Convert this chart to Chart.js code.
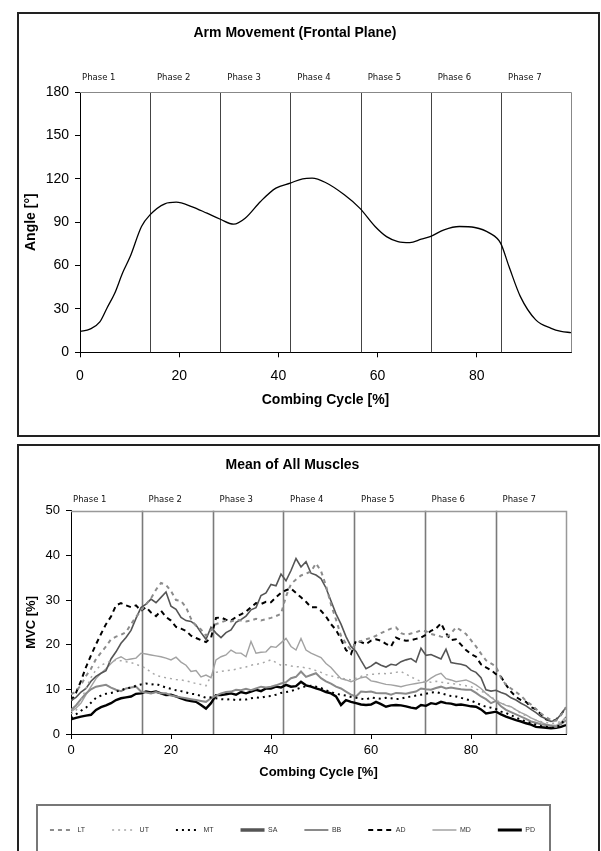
<!DOCTYPE html>
<html>
<head>
<meta charset="utf-8">
<script src="https://cdn.jsdelivr.net/npm/chart.js@4.4.0/dist/chart.umd.min.js"></script>
<style>
  html, body { margin: 0; padding: 0; background: #fff; }
  body { width: 601px; height: 851px; position: relative; overflow: hidden; }
  .panel { position: absolute; left: 17px; width: 579px; border: 2px solid #222; background: #fff; }
  #topPanel { top: 12px; height: 421px; }
  #bottomPanel { top: 444px; height: 430px; }
  canvas { display: block; }
  #legendBox { position: absolute; left: 36px; top: 804px; width: 511px; height: 80px;
               border: 2px solid #777; pointer-events: none; }
</style>
</head>
<body>
<div class="panel" id="topPanel"><canvas id="armChart" width="579" height="421"></canvas></div>
<div class="panel" id="bottomPanel"><canvas id="mvcChart" width="578" height="405"></canvas></div>
<div id="legendBox"></div>
<script>
// ---- data ----
const phaseNames = ['Phase 1', 'Phase 2', 'Phase 3', 'Phase 4', 'Phase 5', 'Phase 6', 'Phase 7'];
const phaseBounds = [14.1, 28.3, 42.4, 56.6, 70.7, 84.9];
const xTicks = [0, 20, 40, 60, 80];

// arm angle, frontal plane
const armX = [0, 2, 4, 5.5, 7, 8.6, 10.1, 12.4, 14.1, 17.1, 19.4, 22.5, 25.6, 28.3, 31, 33.3, 36.4, 39.5, 42.4, 44.9,
  46.8, 49.5, 53.3, 56.4, 59.5, 61.8, 64.1, 66.5, 68.8, 70.6, 73.4, 76.5, 79.6, 82.6, 84.8, 86.5, 88.8, 91.9, 95, 97, 99];
const armAngle = [14.3, 16, 21, 31, 40.8, 55, 66, 87, 95, 102.7, 103.8, 100.8, 96.2, 92, 88.6, 92.7, 104.3, 113.5, 117, 120,
  120.4, 117.4, 108.9, 99.7, 87, 80, 76.6, 75.9, 78.2, 80, 84.7, 87, 86.3, 82.4, 75.5, 59.3, 38.5, 22.4, 16.6, 14.5, 13.6];

// muscle activity, % MVC, one value per % of cycle (0..99)
const LT = [
  8.9, 9.5, 11, 13, 14.6, 16.8, 18.2, 19.6, 21.2, 21.8,
  22.2, 22.8, 24.6, 26.2, 27.6, 29, 30.4, 32.3, 33.8, 33.4,
  32, 30, 29.8, 28.4, 25.8, 24.2, 23.4, 22, 23.2, 24.6,
  25, 25.4, 25.2, 25.6, 25.4, 25.2, 25.4, 25.8, 25.4, 25.7,
  26, 26.4, 26.9, 30.8, 33.6, 34.6, 35.5, 35.9, 36.4, 38.2,
  36.5, 33.2, 29, 25.6, 22, 20.2, 18.8, 20.4, 20.8, 21.2,
  21.5, 22, 22.6, 23.1, 23.6, 23.9, 22.6, 22.2, 22.5, 22.8,
  23.2, 23, 22.4, 22.1, 21.8, 21.6, 22.5, 23.9, 23.2, 22.4,
  21, 19.6, 18, 16.5, 15.8, 15.1, 12.6, 11, 10.2, 9.4,
  8.6, 7.4, 6.6, 5.6, 4.6, 3.8, 3.1, 3, 4.2, 6];
const UT = [
  4.5, 5.2, 7.4, 10.2, 12.6, 14.4, 15.4, 15.9, 16.3, 16.5,
  16.4, 16.2, 16, 15.6, 15.2, 14.7, 13.8, 13.2, 12.8, 12.6,
  12.4, 12.2, 12.1, 11.9, 11.6, 11.3, 11.1, 10.8, 13, 13.8,
  14, 14.2, 14.3, 14.5, 14.8, 15, 15.4, 15.6, 15.8, 16.2,
  16.6, 16, 15.4, 15.5, 15.2, 15.1, 15, 14.8, 14.6, 14.2,
  13.8, 13.3, 13, 12.7, 12.5, 12.3, 12.1, 12.5, 12.9, 13.2,
  13.4, 13.4, 13.6, 13.5, 13.6, 13.8, 14, 13.4, 12.8, 12.2,
  11.8, 11.7, 11.6, 11.8, 11.6, 11.4, 11.3, 11.2, 11, 10.8,
  10.6, 10.1, 9.6, 9.1, 8.3, 7.6, 7, 6.4, 6.1, 5.4,
  4.6, 4.1, 3.6, 3.1, 2.8, 2.6, 2.4, 2.4, 2.9, 3.5];
const MT = [
  3.6, 4.4, 5.2, 5.9, 7, 8.1, 8.6, 9, 9.2, 9.5,
  9.8, 10.2, 10.4, 10.8, 11.1, 11.3, 11.1, 11.2, 10.8, 10.4,
  10.1, 9.8, 9.6, 9.3, 9, 8.9, 8.5, 8.1, 8.2, 8,
  7.8, 7.7, 7.8, 7.6, 7.7, 7.7, 8, 8.2, 8.1, 8.4,
  8.5, 8.8, 9.2, 9.4, 9.6, 10, 10.4, 10.7, 10.8, 10.6,
  10.3, 9.8, 9.4, 9, 8.8, 8.6, 8.3, 8.1, 7.9, 7.7,
  8.2, 8, 7.9, 8.1, 8, 7.8, 7.9, 8.2, 8.4, 8.6,
  8.8, 9, 9.3, 9.4, 9.1, 8.8, 8.5, 8.4, 8.1, 7.8,
  7.5, 7, 6.5, 6.1, 5.9, 5.6, 5, 4.7, 4.2, 3.7,
  3.2, 2.8, 2.4, 2.1, 1.8, 1.6, 1.4, 1.4, 2.2, 3.6];
const SA = [
  7.5, 8.2, 9.4, 10.2, 11.8, 12.9, 13.6, 14.2, 16.8, 18.4,
  20.3, 21.6, 23.2, 25.9, 28.3, 29.1, 30.2, 29.4, 30.6, 31.8,
  28.6, 27.9, 26.1, 25.4, 25.2, 24.4, 22.7, 21.2, 23.9, 22.6,
  21.6, 22.7, 23.3, 25, 25.6, 26.4, 27.8, 28.3, 31, 31.6,
  33.5, 33.2, 35.8, 34.3, 36.6, 39.3, 37.4, 38.6, 36, 35.6,
  34.8, 32.7, 29.8, 26.9, 24.6, 21.8, 19.6, 18.5, 16.5, 14.6,
  15.2, 16, 15.4, 15, 15.6, 15.4, 16.2, 16.6, 16.9, 16.1,
  19.2, 17.6, 17.8, 17.3, 16.8, 19, 16, 15.8, 15.6, 15.3,
  14.3, 13.8, 12.6, 9.9, 9.6, 9.8, 9.3, 8.9, 8.1, 7.6,
  6.9, 6.3, 5.5, 4.8, 3.9, 3.4, 2.8, 3.1, 4.4, 6];
const BB = [
  5.4, 6.4, 7.8, 9.1, 10, 10.6, 10.8, 11, 10.4, 9.9,
  9.6, 10.2, 10.4, 10.6, 9.5, 9.3, 9.1, 9.4, 9.1, 9.1,
  8.6, 8.4, 8.2, 8, 7.8, 7.6, 7.4, 7.2, 8, 8.6,
  9.1, 9.4, 9.5, 9.9, 9.8, 10.1, 9.8, 10.2, 10.6, 10.4,
  10.6, 10.9, 11.3, 11.6, 12.5, 12.8, 14, 12.8, 13.2, 13.6,
  12.5, 11.8, 11.3, 10.6, 10.2, 9.5, 8.8, 8.4, 9.5, 9.4,
  9.5, 9.2, 9.1, 9.1, 8.8, 9.2, 9.1, 9, 9.3, 9.5,
  10.2, 10, 9.9, 10.3, 10.6, 10.2, 10.4, 10.2, 10, 9.9,
  9.9, 9.2, 8.4, 7.8, 6.9, 7.4, 6.2, 5.4, 4.9, 4.4,
  3.9, 3.4, 2.8, 2.5, 2.2, 2, 1.8, 1.6, 2.2, 3.1];
const AD = [
  7.4, 9.2, 11.9, 15, 17.6, 20.1, 22.4, 24.6, 26.3, 28.8,
  29.3, 28.8, 28.4, 28.8, 27.6, 28.4, 27.2, 26.4, 27.6, 26.2,
  25.4, 24, 23.6, 23.1, 22, 21.5, 21, 20.6, 21.5, 26,
  26.1, 25.6, 25.4, 26.2, 26.8, 27.4, 28.4, 29.3, 29.1, 29.6,
  29.5, 30.6, 31.6, 32.2, 32.6, 31.6, 30.6, 29.6, 28.4, 28.4,
  27.6, 26.3, 24.6, 23.3, 21.2, 18.8, 17.9, 20.9, 20.6, 20.1,
  20.9, 21.2, 20.9, 20.2, 19.6, 21.6, 21.1, 20.9, 21, 21.3,
  21.6, 22.2, 23.1, 23.6, 24.8, 22.6, 21, 21.2, 20, 18.8,
  17.9, 17.3, 15.6, 14.9, 14.3, 13.4, 12.8, 11, 9.5, 8.3,
  7.6, 7.2, 6, 5.5, 4.4, 3.3, 2.9, 3.2, 4.4, 5.9];
const MD = [
  5, 5.8, 6.9, 8.8, 10.6, 12.4, 13.6, 14.6, 15.8, 16.8,
  17.3, 16.6, 16.8, 17, 18.1, 17.9, 17.7, 17.5, 17.3, 17,
  16.6, 17.2, 16.1, 15.4, 14, 14.2, 12.8, 13.2, 12.6, 16.6,
  17.3, 17.7, 18.8, 18.1, 18.1, 17.3, 20.7, 18.1, 18.3, 18.4,
  19.6, 19.4, 20.4, 21.4, 19.6, 18.8, 21.4, 18.8, 18.1, 17.6,
  17.1, 15.8, 14.9, 13.6, 12.4, 12.1, 11.7, 12.1, 12.6, 12.8,
  11.9, 11.7, 11.4, 11.1, 11, 10.8, 10.6, 10.9, 11.1, 11.3,
  11.5, 11.7, 12.5, 13.2, 13.6, 12.4, 12.1, 11.7, 11.9, 12.1,
  11.6, 11, 10.2, 9.1, 8.2, 7.4, 6.9, 6.4, 6.1, 5.4,
  4.8, 4.3, 3.6, 3.1, 2.6, 2.2, 2, 1.9, 2.6, 3.9];
const PD = [
  3.3, 3.6, 3.9, 4.1, 4.3, 5.4, 6, 6.4, 6.9, 7.6,
  8, 8.2, 8.4, 9, 9.1, 9.5, 9.3, 9.5, 9.1, 8.7,
  8.8, 8.4, 8, 7.6, 7.4, 7.2, 6.5, 5.7, 6.9, 8.7,
  8.7, 8.9, 9.1, 8.8, 9.4, 9.1, 9.5, 9.9, 9.6, 10.2,
  10.2, 10.6, 10.4, 11, 10.6, 10.7, 11.7, 10.9, 10.6, 10.2,
  9.9, 9.4, 9.1, 8.4, 6.5, 7.6, 7.2, 6.9, 6.6, 6.5,
  6.6, 7.2, 6.7, 6.1, 6.4, 6.5, 6.4, 6.2, 5.9, 5.7,
  6.5, 6.3, 6.9, 6.7, 7.2, 6.9, 6.8, 6.5, 6.6, 6.4,
  6.2, 6.1, 5.5, 4.6, 4.8, 5, 4.4, 3.9, 3.5, 3.1,
  2.8, 2.4, 2.1, 1.6, 1.5, 1.4, 1.3, 1.4, 1.6, 2];

// ---- helpers ----
const FONT = "'Liberation Sans', Arial, sans-serif";
const toPoints = (xs, ys) => ys.map((y, i) => ({x: xs ? xs[i] : i, y}));

// phase separators, labels and the grey top/right frame of the plot
const phasePlugin = {
  id: 'phases',
  beforeDatasetsDraw(chart, args, o) {
    const {ctx, chartArea: a, scales: {x}} = chart;
    const top = Math.round(a.top) + 0.5, right = Math.round(a.right) + 0.5;
    ctx.save();
    ctx.strokeStyle = o.lineColor;
    ctx.lineWidth = o.lineWidth;
    phaseBounds.forEach(v => {
      const px = Math.round(x.getPixelForValue(v)) + 0.5;
      ctx.beginPath(); ctx.moveTo(px, a.top); ctx.lineTo(px, a.bottom); ctx.stroke();
    });
    ctx.strokeStyle = o.frameColor;
    ctx.lineWidth = o.frameWidth;
    ctx.beginPath(); ctx.moveTo(a.left, top); ctx.lineTo(right, top); ctx.lineTo(right, a.bottom); ctx.stroke();
    ctx.fillStyle = '#111';
    ctx.font = "8.5px 'DejaVu Sans', Verdana, sans-serif";
    ctx.textBaseline = 'middle';
    phaseNames.forEach((name, i) => {
      const px = i === 0 ? a.left + 2 : x.getPixelForValue(phaseBounds[i - 1]) + 7;
      ctx.fillText(name, px, a.top - o.labelGap);
    });
    ctx.restore();
  }
};

function axisX(fontSize, tickPad, height, titlePad) {
  return {
    type: 'linear', min: 0, max: 99,
    afterBuildTicks: s => { s.ticks = xTicks.map(v => ({value: v})); },
    afterFit: s => { s.height = height; },
    ticks: {font: {family: FONT, size: fontSize}, color: '#000', padding: tickPad, maxRotation: 0},
    grid: {drawOnChartArea: false, color: '#000', tickLength: 5},
    border: {color: '#000', width: 1},
    title: {display: true, text: 'Combing Cycle [%]', color: '#000',
            font: {family: FONT, size: fontSize, weight: 'bold'}, padding: {top: 0, bottom: titlePad}}
  };
}
function axisY(max, step, fontSize, width, label, titlePad) {
  return {
    min: 0, max: max,
    afterFit: s => { s.width = width; },
    ticks: {stepSize: step, font: {family: FONT, size: fontSize}, color: '#000', padding: 6},
    grid: {drawOnChartArea: false, color: '#000', tickLength: 5},
    border: {color: '#000', width: 1},
    title: {display: true, text: label, color: '#000',
            font: {family: FONT, size: fontSize, weight: 'bold'}, padding: {top: titlePad, bottom: 0}}
  };
}

// ---- top chart ----
new Chart(document.getElementById('armChart'), {
  type: 'line',
  data: {
    datasets: [{
      label: 'Angle',
      data: toPoints(armX, armAngle),
      borderColor: '#000', borderWidth: 1.3, pointRadius: 0,
      cubicInterpolationMode: 'monotone'
    }]
  },
  options: {
    responsive: false, animation: false,
    layout: {padding: {top: 0, right: 27, bottom: 12.7, left: 0}},
    plugins: {
      legend: {display: false},
      tooltip: {enabled: false},
      title: {display: true, text: 'Arm Movement (Frontal Plane)', color: '#000',
              font: {family: FONT, size: 14, weight: 'bold'}, padding: {top: 10.6, bottom: 50.6}},
      phases: {lineColor: '#444', lineWidth: 1, frameColor: '#888', frameWidth: 1, labelGap: 14}
    },
    scales: {
      x: axisX(14, 10, 70, 13.9),
      y: axisY(180, 30, 14, 61, 'Angle [°]', 3.6)
    }
  },
  plugins: [phasePlugin]
});

// ---- bottom chart ----
const muscles = [
  {label: 'LT', data: LT, borderColor: '#8c8c8c', borderWidth: 2, borderDash: [4, 4]},
  {label: 'UT', data: UT, borderColor: '#a8a8a8', borderWidth: 1.5, borderDash: [2, 4]},
  {label: 'MT', data: MT, borderColor: '#000', borderWidth: 2, borderDash: [2, 4]},
  {label: 'SA', data: SA, borderColor: '#555', borderWidth: 1.6, legendWidth: 3.5},
  {label: 'BB', data: BB, borderColor: '#8a8a8a', borderWidth: 2},
  {label: 'AD', data: AD, borderColor: '#000', borderWidth: 2, borderDash: [5, 4]},
  {label: 'MD', data: MD, borderColor: '#a2a2a2', borderWidth: 1.4},
  {label: 'PD', data: PD, borderColor: '#000', borderWidth: 2.4, legendWidth: 3}
];

new Chart(document.getElementById('mvcChart'), {
  type: 'line',
  data: {
    datasets: muscles.map(m => ({
      label: m.label, data: toPoints(null, m.data),
      borderColor: m.borderColor, backgroundColor: m.borderColor,
      borderWidth: m.borderWidth, borderDash: m.borderDash || [],
      legendWidth: m.legendWidth || m.borderWidth,
      pointRadius: 0, tension: 0
    }))
  },
  options: {
    responsive: false, animation: false,
    layout: {padding: {top: 0, right: 31, bottom: 7.5, left: 0}},
    plugins: {
      tooltip: {enabled: false},
      title: {display: true, text: 'Mean of All Muscles', color: '#000',
              font: {family: FONT, size: 14, weight: 'bold'}, padding: {top: 10.6, bottom: 37.3}},
      legend: {
        display: true, position: 'bottom',
        labels: {
          usePointStyle: true, pointStyle: 'line', pointStyleWidth: 24, boxHeight: 7,
          padding: 27, color: '#333', font: {family: FONT, size: 7},
          generateLabels: chart => chart.data.datasets.map((ds, i) => ({
            text: ds.label, datasetIndex: i, hidden: false, pointStyle: 'line',
            strokeStyle: ds.borderColor, fillStyle: ds.borderColor,
            lineWidth: ds.legendWidth, lineDash: ds.borderDash, fontColor: '#333'
          }))
        }
      },
      phases: {lineColor: '#7a7a7a', lineWidth: 1.6, frameColor: '#999', frameWidth: 1.5, labelGap: 10.5}
    },
    scales: {
      x: axisX(13, 3.2, 65.5, 19.7),
      y: axisY(50, 10, 13, 52, 'MVC [%]', 4.2)
    }
  },
  plugins: [phasePlugin]
});
</script>
</body>
</html>
